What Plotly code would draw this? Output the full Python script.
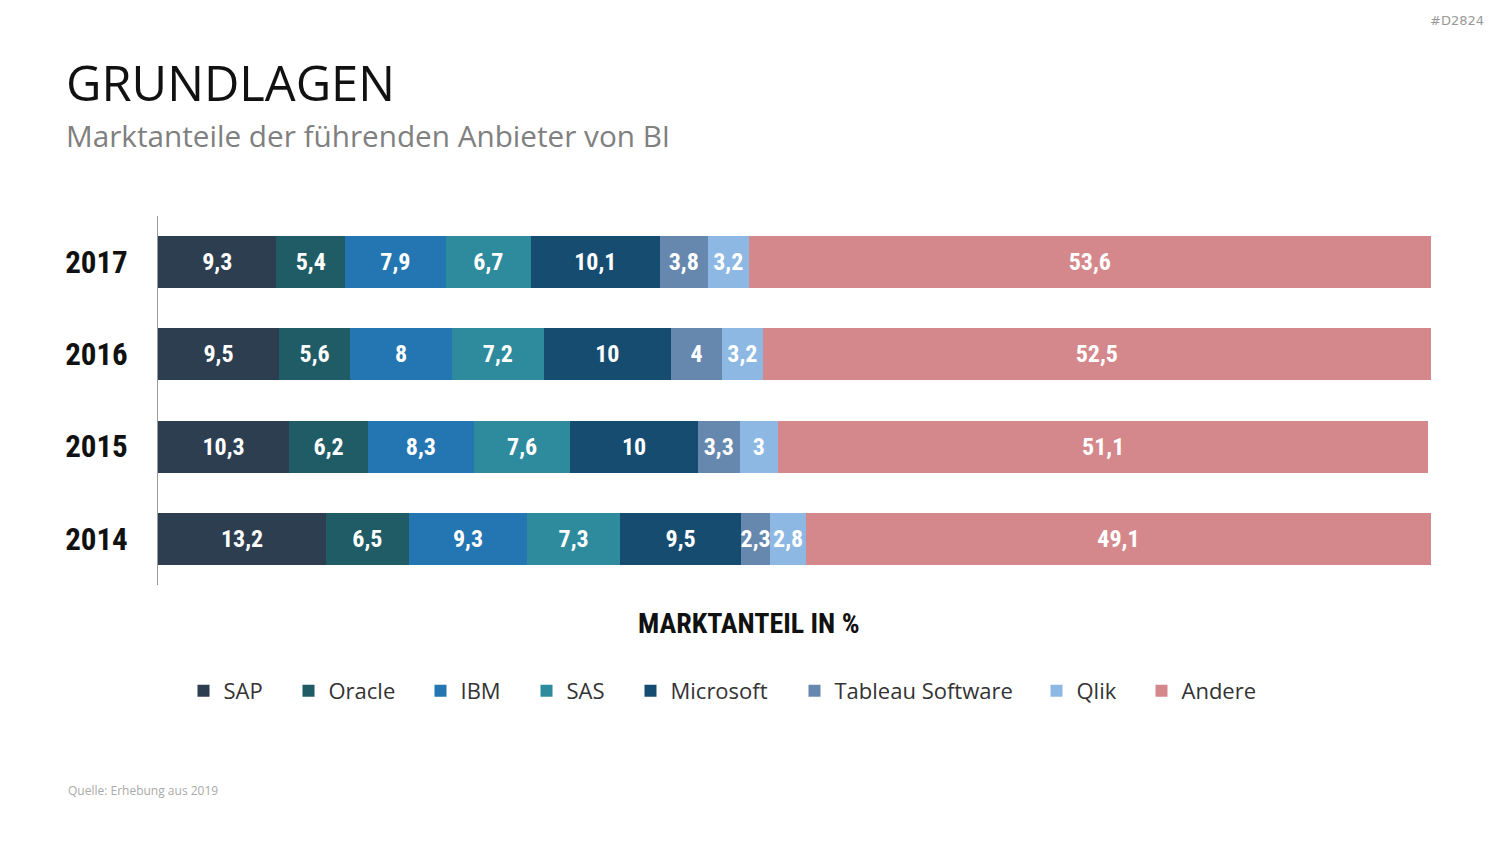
import plotly.graph_objects as go

years = ["2014", "2015", "2016", "2017"]
vendors = ["SAP", "Oracle", "IBM", "SAS", "Microsoft", "Tableau Software", "Qlik", "Andere"]
colors = ["#2D3E50", "#1F5C66", "#2376B1", "#2E8A9D", "#174C71", "#6788AE", "#8DB8E3", "#D5888B"]

sap = [13.2, 10.3, 9.5, 9.3]
oracle = [6.5, 6.2, 5.6, 5.4]
ibm = [9.3, 8.3, 8.0, 7.9]
sas = [7.3, 7.6, 7.2, 6.7]
microsoft = [9.5, 10.0, 10.0, 10.1]
tableau = [2.3, 3.3, 4.0, 3.8]
qlik = [2.8, 3.0, 3.2, 3.2]
andere = [49.1, 51.1, 52.5, 53.6]

series = [sap, oracle, ibm, sas, microsoft, tableau, qlik, andere]

W, H = 1500, 844
L, R, T, B = 158, 69, 216, 259
PW, PH = W - L - R, H - T - B

# left edge (px) of each legend entry's swatch in the reference
legend_x = [200, 305, 437, 543, 647, 811, 1053, 1158]


def px(x):
    return (x - L) / PW


def py(y):
    return (H - B - y) / PH


def fmt(v):
    return f"{v:g}".replace(".", ",")


COND = "Roboto Condensed, Liberation Sans Narrow, Roboto, sans-serif"

fig = go.Figure()
for i, (name, vals, col) in enumerate(zip(vendors, series, colors)):
    lg = "legend" if i == 0 else f"legend{i + 1}"
    fig.add_trace(go.Bar(
        name=name, y=years, x=vals, orientation="h",
        marker=dict(color=col, line=dict(width=0)),
        text=[fmt(v) for v in vals], textposition="inside", textangle=0,
        insidetextanchor="middle", constraintext="none",
        textfont=dict(family=COND, size=24, color="white", weight="bold"),
        hoverinfo="x+name", legend=lg,
    ))

legends = {}
for i, lx in enumerate(legend_x):
    key = "legend" if i == 0 else f"legend{i + 1}"
    legends[key] = dict(orientation="h", xref="container", yref="container",
                        x=(lx - 16.5) / W, y=1 - 691 / H, xanchor="left", yanchor="middle",
                        font=dict(family="Open Sans, sans-serif", size=22, color="#333333"),
                        bgcolor="rgba(0,0,0,0)")

fig.update_layout(
    width=W, height=H,
    barmode="stack", bargap=0.435,
    margin=dict(l=L, r=R, t=T, b=B),
    plot_bgcolor="white", paper_bgcolor="white",
    showlegend=True,
    xaxis=dict(range=[0, 100], showgrid=False, zeroline=False, showticklabels=False,
               showline=False, fixedrange=True),
    yaxis=dict(type="category", showgrid=False, zeroline=False, showline=True,
               linecolor="#9a9a9a", linewidth=1, ticks="outside", ticklen=23,
               tickcolor="rgba(0,0,0,0)",
               tickfont=dict(family=COND, size=31, color="#111111", weight="bold")),
    font=dict(family="Open Sans, sans-serif"),
    **legends,
)

fig.add_annotation(text="GRUNDLAGEN", xref="paper", yref="paper", x=px(64), y=py(82),
                   xanchor="left", yanchor="middle", showarrow=False,
                   font=dict(family="Open Sans, sans-serif", size=48.8, color="#111111"))
fig.add_annotation(text="Marktanteile der führenden Anbieter von BI", xref="paper", yref="paper",
                   x=px(64), y=py(136), xanchor="left", yanchor="middle", showarrow=False,
                   font=dict(family="Open Sans, sans-serif", size=29.7, color="#808080"))
fig.add_annotation(text="MARKTANTEIL IN %", xref="paper", yref="paper", x=px(749), y=py(623),
                   xanchor="center", yanchor="middle", showarrow=False,
                   font=dict(family=COND, size=28, color="#111111", weight="bold"))
fig.add_annotation(text="Quelle: Erhebung aus 2019", xref="paper", yref="paper", x=px(66), y=py(790),
                   xanchor="left", yanchor="middle", showarrow=False,
                   font=dict(family="Open Sans, sans-serif", size=12, color="#aaaaaa"))
fig.add_annotation(text="#D2824", xref="paper", yref="paper", x=px(1486), y=py(20),
                   xanchor="right", yanchor="middle", showarrow=False,
                   font=dict(family="DejaVu Sans, sans-serif", size=13, color="#999999"))

fig.write_html("out.html")
